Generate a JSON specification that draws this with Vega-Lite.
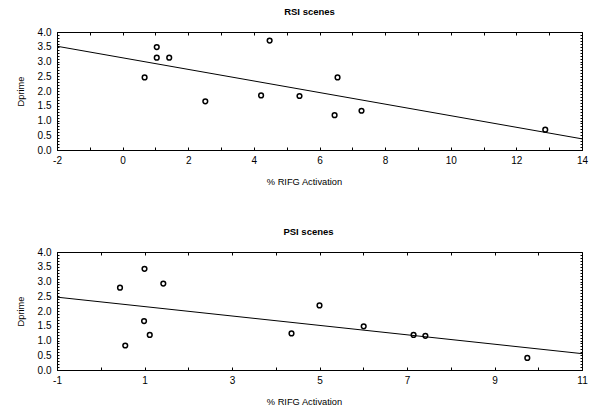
{
  "$schema": "https://vega.github.io/schema/vega-lite/v6.json",
  "padding": {"left": 15, "top": 6, "right": 2, "bottom": 2},
  "background": "white",
  "config": {
    "font": "Liberation Sans",
    "view": {"stroke": "black", "strokeWidth": 1},
    "axis": {"domainColor": "black", "tickColor": "black", "labelColor": "black", "titleColor": "black", "grid": false, "labelFont": "Liberation Sans", "titleFont": "Liberation Sans", "labelFontSize": 10, "titleFontSize": 9.3, "titleFontWeight": "normal", "labelOverlap": false, "labelFlush": false},
    "title": {"font": "Liberation Sans", "fontSize": 9.5, "fontWeight": "bold", "color": "black"}
  },
  "datasets": {
    "rsi": [
      {"x": 0.67, "y": 2.46}, {"x": 1.04, "y": 3.49}, {"x": 1.04, "y": 3.13}, {"x": 1.42, "y": 3.13},
      {"x": 2.52, "y": 1.65}, {"x": 4.22, "y": 1.85}, {"x": 4.48, "y": 3.71}, {"x": 5.39, "y": 1.83},
      {"x": 6.55, "y": 2.46}, {"x": 6.46, "y": 1.18}, {"x": 7.28, "y": 1.33}, {"x": 12.88, "y": 0.69}
    ],
    "psi": [
      {"x": 0.44, "y": 2.79}, {"x": 1.0, "y": 3.43}, {"x": 1.43, "y": 2.93}, {"x": 0.99, "y": 1.66},
      {"x": 1.12, "y": 1.19}, {"x": 0.56, "y": 0.83}, {"x": 4.36, "y": 1.24}, {"x": 5.0, "y": 2.19},
      {"x": 6.01, "y": 1.48}, {"x": 7.15, "y": 1.19}, {"x": 7.42, "y": 1.16}, {"x": 9.75, "y": 0.41}
    ]
  },
  "spacing": 39,
  "vconcat": [
    {
      "width": 525, "height": 118,
      "title": {"text": "RSI scenes", "dx": -10, "offset": 11},
      "layer": [
        {
          "data": {"name": "rsi"},
          "mark": {"type": "point", "shape": "circle", "filled": false, "color": "black", "strokeWidth": 1.5, "size": 22, "opacity": 1},
          "encoding": {
            "x": {"field": "x", "type": "quantitative", "scale": {"domain": [-2, 14], "nice": false, "zero": false},
              "axis": {"orient": "bottom", "title": "% RIFG Activation", "values": [-2,-1,0,1,2,3,4,5,6,7,8,9,10,11,12,13,14], "labelExpr": "datum.value % 2 == 0 ? toString(datum.value) : ''", "tickSize": -3, "labelPadding": 8, "titlePadding": 12, "titleX": 247}},
            "y": {"field": "y", "type": "quantitative", "scale": {"domain": [0, 4], "nice": false},
              "axis": {"orient": "left", "title": "Dprime", "values": [0,0.1,0.2,0.3,0.4,0.5,0.6,0.7,0.8,0.9,1,1.1,1.2,1.3,1.4,1.5,1.6,1.7,1.8,1.9,2,2.1,2.2,2.3,2.4,2.5,2.6,2.7,2.8,2.9,3,3.1,3.2,3.3,3.4,3.5,3.6,3.7,3.8,3.9,4], "labelExpr": "abs(datum.value*2 - round(datum.value*2)) < 0.001 ? format(datum.value, '.1f') : ''", "tickSize": -2, "labelPadding": 8, "titlePadding": 12}}
          }
        },
        {
          "data": {"name": "rsi"},
          "transform": [{"regression": "y", "on": "x", "extent": [-2, 14]}],
          "mark": {"type": "line", "color": "black", "strokeWidth": 1, "clip": true},
          "encoding": {
            "x": {"field": "x", "type": "quantitative", "scale": {"domain": [-2, 14], "nice": false, "zero": false},
              "axis": {"orient": "top", "title": null, "labels": false, "domain": false, "values": [-2,-1,0,1,2,3,4,5,6,7,8,9,10,11,12,13,14], "tickSize": -3}},
            "y": {"field": "y", "type": "quantitative", "scale": {"domain": [0, 4], "nice": false},
              "axis": {"orient": "right", "title": null, "labels": false, "domain": false, "values": [0,0.1,0.2,0.3,0.4,0.5,0.6,0.7,0.8,0.9,1,1.1,1.2,1.3,1.4,1.5,1.6,1.7,1.8,1.9,2,2.1,2.2,2.3,2.4,2.5,2.6,2.7,2.8,2.9,3,3.1,3.2,3.3,3.4,3.5,3.6,3.7,3.8,3.9,4], "tickSize": -2}}
          }
        }
      ],
      "resolve": {"axis": {"x": "independent", "y": "independent"}}
    },
    {
      "width": 525, "height": 118,
      "title": {"text": "PSI scenes", "dx": -11, "offset": 11},
      "layer": [
        {
          "data": {"name": "psi"},
          "mark": {"type": "point", "shape": "circle", "filled": false, "color": "black", "strokeWidth": 1.5, "size": 22, "opacity": 1},
          "encoding": {
            "x": {"field": "x", "type": "quantitative", "scale": {"domain": [-1, 11], "nice": false, "zero": false},
              "axis": {"orient": "bottom", "title": "% RIFG Activation", "values": [-1,0,1,2,3,4,5,6,7,8,9,10,11], "labelExpr": "abs(datum.value % 2) == 1 ? toString(datum.value) : ''", "tickSize": -3, "labelPadding": 8, "titlePadding": 12, "titleX": 247}},
            "y": {"field": "y", "type": "quantitative", "scale": {"domain": [0, 4], "nice": false},
              "axis": {"orient": "left", "title": "Dprime", "values": [0,0.1,0.2,0.3,0.4,0.5,0.6,0.7,0.8,0.9,1,1.1,1.2,1.3,1.4,1.5,1.6,1.7,1.8,1.9,2,2.1,2.2,2.3,2.4,2.5,2.6,2.7,2.8,2.9,3,3.1,3.2,3.3,3.4,3.5,3.6,3.7,3.8,3.9,4], "labelExpr": "abs(datum.value*2 - round(datum.value*2)) < 0.001 ? format(datum.value, '.1f') : ''", "tickSize": -2, "labelPadding": 8, "titlePadding": 12}}
          }
        },
        {
          "data": {"name": "psi"},
          "transform": [{"regression": "y", "on": "x", "extent": [-1, 11]}],
          "mark": {"type": "line", "color": "black", "strokeWidth": 1, "clip": true},
          "encoding": {
            "x": {"field": "x", "type": "quantitative", "scale": {"domain": [-1, 11], "nice": false, "zero": false},
              "axis": {"orient": "top", "title": null, "labels": false, "domain": false, "values": [-1,0,1,2,3,4,5,6,7,8,9,10,11], "tickSize": -3}},
            "y": {"field": "y", "type": "quantitative", "scale": {"domain": [0, 4], "nice": false},
              "axis": {"orient": "right", "title": null, "labels": false, "domain": false, "values": [0,0.1,0.2,0.3,0.4,0.5,0.6,0.7,0.8,0.9,1,1.1,1.2,1.3,1.4,1.5,1.6,1.7,1.8,1.9,2,2.1,2.2,2.3,2.4,2.5,2.6,2.7,2.8,2.9,3,3.1,3.2,3.3,3.4,3.5,3.6,3.7,3.8,3.9,4], "tickSize": -2}}
          }
        }
      ],
      "resolve": {"axis": {"x": "independent", "y": "independent"}}
    }
  ]
}
